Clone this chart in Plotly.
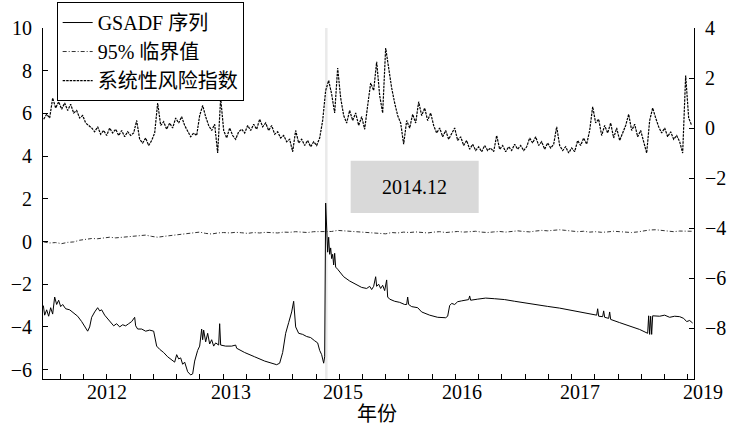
import numpy as np
import plotly.graph_objects as go

# ---- data -------------------------------------------------------------
# x is a trading-day index; the plotted window runs from day 0 to day 1953

# systemic risk index (right axis), one reading every 9 trading days from day 2
risk_index = [
    0.35, 0.55, 0.4, 1.2, 0.8, 1.05, 0.75, 1.0, 0.7, 0.95,
    0.6, 0.7, 0.4, 0.5, 0.2, 0.1, 0.0, -0.15, 0.05, -0.25,
    -0.1, -0.3, 0.0, -0.2, -0.05, -0.3, -0.1, -0.35, -0.15, -0.3,
    -0.2, 0.3, -0.45, -0.6, -0.4, -0.7, -0.5, -0.2, 1.0, 0.1,
    0.25, -0.05, 0.2, 0.0, 0.4, 0.2, 0.45, 0.1, -0.1, -0.35,
    -0.2, -0.3, 0.5, 0.9, 0.45, 0.1, -0.1, 0.15, -1.0, 1.2,
    -0.1, -0.4, 0.0, -0.3, -0.45, -0.15, -0.05, -0.2, 0.1, -0.1,
    0.15, -0.05, 0.35, 0.05, 0.2, -0.1, 0.1, -0.25, -0.15, -0.4,
    -0.3, -0.55, -0.45, -0.95, -0.1, -0.6, -0.45, -0.7, -0.5, -0.75,
    -0.55, -0.7, -0.4, 0.3, 1.5, 1.9, 1.35, 0.6, 2.4, 1.2,
    0.5, 0.2, 0.7, 0.3, 0.6, 0.1, 0.45, -0.05, 0.9, 1.8,
    1.5, 2.65, 1.3, 0.6, 3.2, 2.3, 1.6, 1.0, 0.5, 0.2,
    -0.65, 0.3, 0.0, 0.55, 0.2, 1.05, 0.5, 0.8, 0.3, 0.6,
    0.1, -0.2, 0.0, -0.35, -0.1, -0.45, -0.25, 0.0, -0.5, -0.35,
    -0.7, -0.5, -0.85, -0.65, -0.9, -0.75, -0.95, -0.7, -0.9, -0.8,
    -0.95, -0.3, -0.85, -0.7, -0.95, -0.75, -0.9, -0.65, -0.85, -0.7,
    -0.9, -0.75, -0.4, -0.6, -0.35, -0.7, -0.55, -0.85, -0.6, -0.8,
    -0.65, 0.05, -0.7, -0.9, -0.75, -1.0, -0.8, -0.95, -0.5, -0.7,
    -0.4, -0.65, -0.1, 0.85, 0.2, 0.35, -0.3, 0.1, -0.2, 0.2,
    -0.4, 0.0, -0.5, -0.2, 0.1, 0.55, -0.1, 0.15, -0.35, -0.1,
    -0.5, -1.0, 0.3, 0.8, 0.4, 0.05, -0.2, 0.0, -0.35, -0.15,
    -0.45, -0.3, -0.55, -1.0, 2.1, 0.4, 0.1,
]
risk_start, risk_step = 2, 9

# 95% critical value (left axis), one reading every 18 trading days from day 2
crit_value = [
    -0.02, -0.07, -0.05, -0.1, -0.04, -0.02, 0.06, 0.1, 0.14, 0.13,
    0.18, 0.2, 0.17, 0.2, 0.22, 0.25, 0.27, 0.3, 0.24, 0.2,
    0.24, 0.27, 0.3, 0.33, 0.37, 0.42, 0.44, 0.38, 0.35, 0.4,
    0.42, 0.4, 0.43, 0.41, 0.38, 0.42, 0.4, 0.43, 0.42, 0.4,
    0.44, 0.43, 0.46, 0.44, 0.42, 0.46, 0.47, 0.49, 0.47, 0.52,
    0.5, 0.48, 0.45, 0.44, 0.42, 0.4, 0.38, 0.36, 0.42, 0.4,
    0.44, 0.42, 0.45, 0.43, 0.4, 0.44, 0.46, 0.42, 0.45, 0.47,
    0.44, 0.45, 0.48, 0.44, 0.42, 0.45, 0.47, 0.44, 0.46, 0.5,
    0.47, 0.45, 0.49, 0.52, 0.5, 0.53, 0.55, 0.52, 0.5, 0.46,
    0.48, 0.44, 0.46, 0.43, 0.45, 0.48, 0.46, 0.44, 0.42, 0.45,
    0.5, 0.54, 0.55, 0.51, 0.48, 0.46, 0.49, 0.47, 0.48,
]
crit_start, crit_step = 2, 18

# GSADF (BSADF) sequence (left axis): trading day, statistic
gsadf_day = [
    1, 5, 11, 17, 23, 29, 35, 41, 47, 53, 59, 68, 80, 92, 104, 116, 125, 134,
    140, 146, 155, 164, 170, 176, 185, 194, 203, 212, 221, 230, 239, 248, 257,
    266, 275, 278, 284, 296, 308, 320, 332, 341, 350, 362, 374, 386, 395, 401,
    407, 413, 419, 425, 434, 443, 449, 455, 464, 470, 476, 479, 482, 488, 494,
    500, 506, 512, 518, 527, 530, 533, 548, 566, 578, 581, 605, 635, 665, 701,
    710, 719, 728, 737, 746, 752, 758, 767, 779, 791, 803, 815, 824, 830, 836,
    842, 845, 848, 851, 854, 857, 860, 863, 866, 869, 872, 875, 878, 884, 893,
    902, 920, 938, 956, 971, 980, 986, 992, 998, 1001, 1007, 1013, 1019, 1025,
    1031, 1034, 1040, 1055, 1070, 1085, 1091, 1094, 1097, 1106, 1124, 1136,
    1160, 1184, 1208, 1214, 1220, 1226, 1235, 1244, 1256, 1268, 1277, 1280,
    1283, 1304, 1328, 1355, 1385, 1415, 1445, 1475, 1514, 1550, 1586, 1616,
    1640, 1661, 1664, 1667, 1679, 1682, 1685, 1697, 1700, 1703, 1730, 1760,
    1790, 1814, 1817, 1820, 1823, 1826, 1829, 1850, 1865, 1880, 1895, 1910,
    1922, 1931, 1940, 1949,
]
gsadf_stat = [
    -3.0, -3.45, -3.2, -3.5, -3.1, -3.4, -2.6, -2.95, -2.75, -3.05, -2.95,
    -3.15, -3.2, -3.35, -3.5, -3.75, -4.0, -4.2, -4.0, -3.55, -3.3, -3.1,
    -3.25, -3.2, -3.45, -3.6, -3.75, -3.95, -3.85, -4.0, -3.9, -3.95, -3.85,
    -3.75, -3.55, -3.95, -4.1, -4.1, -4.2, -4.15, -4.2, -4.9, -5.05, -5.2,
    -5.4, -5.55, -5.65, -5.3, -5.5, -5.45, -5.75, -5.65, -6.1, -6.25, -6.2,
    -5.6, -5.1, -4.9, -4.1, -4.6, -4.15, -4.7, -4.3, -4.8, -4.6, -4.9, -4.75,
    -4.85, -3.85, -4.85, -4.9, -4.9, -4.85, -5.0, -5.2, -5.4, -5.6, -5.77,
    -5.7, -5.2, -4.3, -3.8, -3.3, -2.8, -4.0, -4.3, -4.35, -4.45, -4.5, -4.65,
    -4.75, -5.1, -5.3, -5.7, -5.4, 1.8, 0.1, -0.5, 0.2, -0.6, -0.3, -0.8,
    -0.6, -1.1, -0.55, -1.2, -1.3, -1.5, -1.65, -1.85, -2.0, -2.15, -2.2,
    -2.1, -2.25, -2.1, -1.65, -2.1, -2.0, -2.2, -2.05, -2.3, -1.8, -2.6, -2.7,
    -2.8, -2.85, -2.95, -2.95, -2.6, -2.95, -3.05, -3.1, -3.3, -3.45, -3.55,
    -3.57, -3.5, -3.0, -2.9, -2.95, -2.82, -2.78, -2.75, -2.72, -2.55, -2.75,
    -2.7, -2.65, -2.68, -2.72, -2.8, -2.88, -2.95, -3.04, -3.12, -3.22, -3.32,
    -3.4, -3.45, -3.15, -3.5, -3.52, -3.25, -3.55, -3.6, -3.3, -3.65, -3.8,
    -3.95, -4.12, -4.3, -3.48, -4.35, -3.5, -4.35, -3.48, -3.5, -3.45, -3.55,
    -3.5, -3.52, -3.6, -3.75, -3.7, -3.82,
]

# year labels along the bottom axis and the day they sit at
year_labels = ["2012", "2013", "2015", "2016", "2017", "2019"]
year_label_day = [192, 563, 899, 1256, 1610, 1979]

left_ticks = [-6, -4, -2, 0, 2, 4, 6, 8, 10]
right_ticks = [-8, -6, -4, -2, 0, 2, 4]

event_day = 850          # 2014.12 breakpoint
event_label = "2014.12"

# ---- figure -----------------------------------------------------------
SERIF = "Liberation Serif, Noto Sans CJK SC, serif"
X_RANGE = [0, 1953]

risk_x = risk_start + risk_step * np.arange(len(risk_index))
crit_x = crit_start + crit_step * np.arange(len(crit_value))

fig = go.Figure()

fig.add_trace(go.Scatter(
    x=gsadf_day, y=gsadf_stat, mode="lines", name="GSADF 序列",
    line=dict(color="black", width=1), legendrank=1,
))
fig.add_trace(go.Scatter(
    x=crit_x, y=crit_value, mode="lines", name="95% 临界值",
    line=dict(color="#333333", width=1, dash="4px,2px,1px,2px"), legendrank=2,
))
fig.add_trace(go.Scatter(
    x=risk_x, y=risk_index, mode="lines", name="系统性风险指数", yaxis="y2",
    line=dict(color="black", width=1.2, dash="2.5px,1px"), legendrank=3,
))

# breakpoint marker
fig.add_shape(type="line", xref="x", yref="paper", x0=event_day, x1=event_day,
              y0=0, y1=1, line=dict(color="#eaeaea", width=2.5), layer="below")
fig.add_shape(type="rect", xref="x", yref="y", x0=923, x1=1307, y0=1.34, y1=3.78,
              fillcolor="#d9d9d9", line=dict(width=0), layer="below")
fig.add_annotation(x=1115, y=2.56, xref="x", yref="y", text=event_label,
                   showarrow=False, font=dict(family=SERIF, size=20, color="black"))

# year labels (placed in paper space so the last one may sit past the axis end)
for lab, d in zip(year_labels, year_label_day):
    px = (d - X_RANGE[0]) / (X_RANGE[1] - X_RANGE[0])
    fig.add_annotation(x=px, y=-0.036, xref="paper", yref="paper", text=lab,
                       showarrow=False, yanchor="middle", xanchor="center",
                       font=dict(family=SERIF, size=20, color="black"))

fig.add_annotation(x=0.513, y=-0.1, xref="paper", yref="paper", text="年份",
                   showarrow=False, yanchor="middle",
                   font=dict(family=SERIF, size=20, color="black"))

axis_common = dict(showgrid=False, zeroline=False, showline=True, linecolor="black",
                   linewidth=1, ticks="inside", ticklen=5, tickcolor="black",
                   automargin=False, tickmode="array",
                   tickfont=dict(family=SERIF, size=20, color="black"))

fig.update_layout(
    width=730, height=429,
    margin=dict(l=43, r=36, t=28, b=50, autoexpand=False),
    paper_bgcolor="white", plot_bgcolor="white",
    showlegend=True,
    legend=dict(x=0.021, y=1.074, xanchor="left", yanchor="top",
                bgcolor="white", bordercolor="black", borderwidth=1,
                font=dict(family=SERIF, size=20, color="black"),
                tracegroupgap=0, itemwidth=30),
    xaxis=dict(range=X_RANGE, showgrid=False, zeroline=False, showline=True,
               linecolor="black", linewidth=1, showticklabels=False,
               ticks="inside", ticklen=5, tickcolor="black", automargin=False,
               tickmode="linear", tick0=52.1, dtick=69.72),
    yaxis=dict(range=[-6.44, 10.0], tickvals=left_ticks, ticklabelstandoff=6,
               **axis_common),
    yaxis2=dict(range=[-10.04, 4.0], tickvals=right_ticks, overlaying="y",
                side="right", ticklabelstandoff=6, **axis_common),
)

fig.write_html("out.html")
